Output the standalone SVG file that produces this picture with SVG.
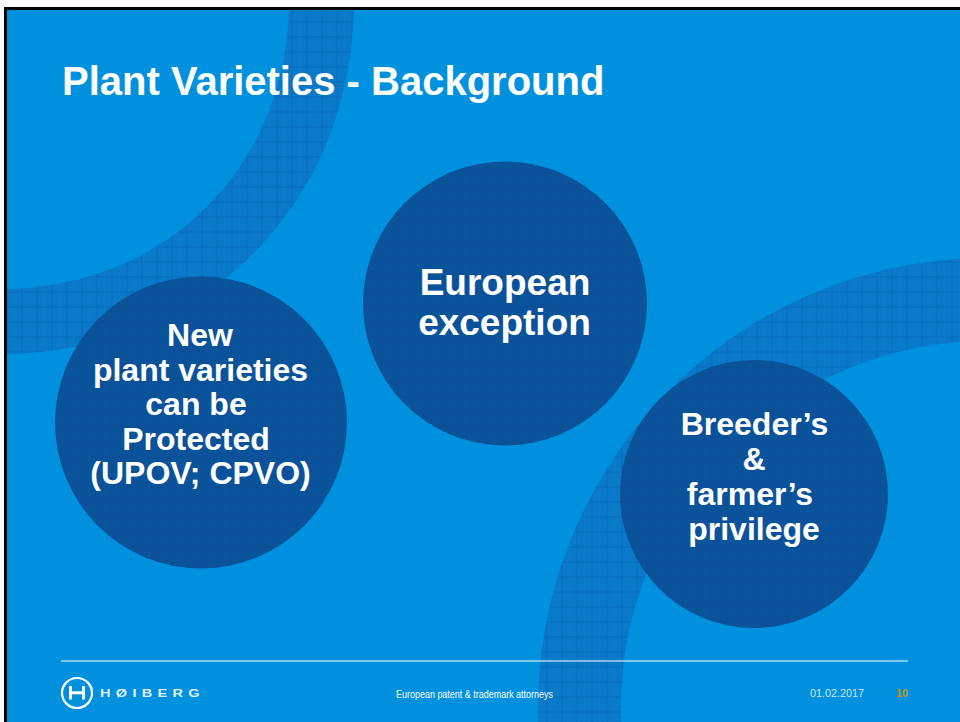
<svg xmlns="http://www.w3.org/2000/svg" width="960" height="722" viewBox="0 0 960 722">
<style>
text{font-family:"Liberation Sans",Arial,sans-serif;fill:#fff}
.b{font-weight:bold;text-anchor:middle}
.disc{fill:url(#discP)}
.ringS{fill:none;stroke:url(#ringP)}
</style>
<defs>
<pattern id="ringP" width="15" height="15" patternUnits="userSpaceOnUse">
<rect width="15" height="15" fill="#0a82d2"/>
<path d="M1 0V15M3 0V15M5 0V15M7 0V15M9 0V15M11 0V15M13 0V15" stroke="#0774c4" stroke-width="1" fill="none"/>
<path d="M0 1H15M0 3H15M0 5H15M0 7H15M0 9H15M0 11H15M0 13H15" stroke="#0774c4" stroke-width="1" fill="none" stroke-opacity=".7"/>
<path d="M7 0V15M0 7H15" stroke="#066dbe" stroke-width="1" fill="none"/>
</pattern>
<pattern id="discP" width="15" height="15" patternUnits="userSpaceOnUse">
<rect width="15" height="15" fill="#0b579f"/>
<path d="M1 0V15M3 0V15M5 0V15M9 0V15M11 0V15M13 0V15M0 1H15M0 3H15M0 5H15M0 9H15M0 11H15M0 13H15" stroke="#09519a" stroke-width="1" fill="none"/>
<path d="M7 0V15M0 7H15" stroke="#094d95" stroke-width="1" fill="none"/>
</pattern>
<clipPath id="slide"><rect x="7" y="10" width="953" height="712"/></clipPath>
</defs>
<rect width="960" height="722" fill="#fff"/>
<rect x="4" y="7" width="956" height="715" fill="#000"/>
<rect x="7" y="10" width="953" height="712" fill="#0091de"/>
<g clip-path="url(#slide)">
<path d="M354 0C354 204 204 354 0 354L0 289C166 289 289 166 289 0Z" fill="url(#ringP)"/>
<circle class="ringS" cx="988" cy="708" r="408.500" stroke-width="83"/>
</g>
<text x="62" y="95" font-size="40" font-weight="bold">Plant Varieties - Background</text>
<g id="node-new-varieties">
<circle class="disc" cx="201" cy="422.500" r="146"/>
<text class="b" font-size="32"><tspan x="200" y="346">New</tspan><tspan x="200.500" y="381">plant varieties</tspan><tspan x="196" y="415">can be</tspan><tspan x="196" y="450">Protected</tspan><tspan x="200.500" y="484">(UPOV; CPVO)</tspan></text>
</g>
<g id="node-european-exception">
<circle class="disc" cx="505" cy="303.500" r="142"/>
<text class="b" font-size="37"><tspan x="505" y="295">European</tspan><tspan x="504.500" y="335">exception</tspan></text>
</g>
<g id="node-privilege">
<circle class="disc" cx="754" cy="494" r="134"/>
<text class="b" font-size="32"><tspan x="754.500" y="435">Breeder’s</tspan><tspan x="754" y="470">&amp;</tspan><tspan x="750" y="505">farmer’s</tspan><tspan x="754" y="540">privilege</tspan></text>
</g>
<rect x="61" y="660.500" width="847" height="1" fill="#fff"/>
<g id="logo">
<circle cx="77" cy="693" r="15" fill="none" stroke="#fff" stroke-width="2.200"/>
<path d="M70.500 686V699.500M83.500 686V699.500M70.500 692.700H83.500" fill="none" stroke="#fff" stroke-width="3"/>
<text x="100" y="697" font-size="11" font-weight="bold" letter-spacing="4" textLength="105" lengthAdjust="spacingAndGlyphs" fill-opacity=".9">HØIBERG</text>
</g>
<text x="396" y="698" font-size="11.500" textLength="157" lengthAdjust="spacingAndGlyphs" fill="#e4f2fb">European patent &amp; trademark attorneys</text>
<text x="810" y="697" font-size="10.800" style="fill:#cfe6f6">01.02.2017</text>
<text x="896" y="697" font-size="10.800" font-weight="bold" style="fill:#c9941c">10</text>
</svg>
